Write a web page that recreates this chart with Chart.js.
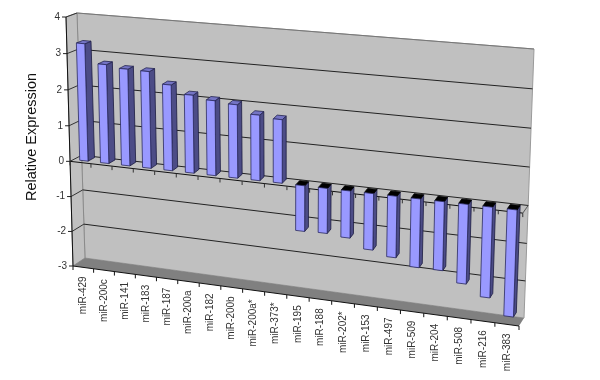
<!DOCTYPE html>
<html>
<head>
<meta charset="utf-8">
<script src="https://cdn.jsdelivr.net/npm/chart.js@4"></script>
<style>
body { margin: 0; background: #fff; }
canvas { display: block; }
</style>
</head>
<body>
<canvas id="myChart" width="600" height="380"></canvas>
<script>
var categories = ['miR-429', 'miR-200c', 'miR-141', 'miR-183', 'miR-187', 'miR-200a', 'miR-182', 'miR-200b', 'miR-200a*', 'miR-373*',
  'miR-195', 'miR-188', 'miR-202*', 'miR-153', 'miR-497', 'miR-509', 'miR-204', 'miR-508', 'miR-216', 'miR-383'];
var expression = [3.27, 2.75, 2.68, 2.67, 2.36, 2.14, 2.05, 2.0, 1.78, 1.72,
  -1.25, -1.23, -1.28, -1.53, -1.66, -1.85, -1.85, -2.13, -2.42, -2.85];
var yMin = -3;
var yMax = 4;

// corners of the tilted box: top-left, top-right, bottom-right, bottom-left
var backWall = [[77, 13], [534, 49], [524, 318], [85, 258]];
var frontPlane = [[66, 17], [528, 57], [519, 326], [73, 266]];

function homography(q) {
  var dx1 = q[1][0] - q[2][0], dx2 = q[3][0] - q[2][0], sx = q[0][0] - q[1][0] + q[2][0] - q[3][0];
  var dy1 = q[1][1] - q[2][1], dy2 = q[3][1] - q[2][1], sy = q[0][1] - q[1][1] + q[2][1] - q[3][1];
  var det = dx1 * dy2 - dx2 * dy1;
  var g = (sx * dy2 - dx2 * sy) / det;
  var h = (dx1 * sy - sx * dy1) / det;
  return {
    a: q[1][0] - q[0][0] + g * q[1][0], b: q[3][0] - q[0][0] + h * q[3][0], c: q[0][0],
    d: q[1][1] - q[0][1] + g * q[1][1], e: q[3][1] - q[0][1] + h * q[3][1], f: q[0][1],
    g: g, h: h
  };
}
var backH = homography(backWall);
var frontH = homography(frontPlane);

function onPlane(m, u, v) {
  var w = m.g * u + m.h * v + 1;
  return [(m.a * u + m.b * v + m.c) / w, (m.d * u + m.e * v + m.f) / w];
}

// u along the categories, v down the value axis, depth 0 = back wall, 1 = front
function project(u, v, depth) {
  var p = onPlane(backH, u, v);
  var q = onPlane(frontH, u, v);
  return [p[0] + (q[0] - p[0]) * depth, p[1] + (q[1] - p[1]) * depth];
}

function poly(ctx, pts, fill, stroke) {
  ctx.beginPath();
  ctx.moveTo(pts[0][0], pts[0][1]);
  for (var i = 1; i < pts.length; i++) ctx.lineTo(pts[i][0], pts[i][1]);
  ctx.closePath();
  if (fill) { ctx.fillStyle = fill; ctx.fill(); }
  if (stroke) { ctx.strokeStyle = stroke; ctx.stroke(); }
}

function line(ctx, a, b, color) {
  ctx.beginPath();
  ctx.moveTo(a[0], a[1]);
  ctx.lineTo(b[0], b[1]);
  ctx.strokeStyle = color;
  ctx.stroke();
}

var box3d = {
  id: 'box3d',
  // the box goes under the bars, the library's flat bars are swapped for 3D ones
  beforeDatasetsDraw: function(chart) {
    var ctx = chart.ctx;
    var area = chart.chartArea;
    var yScale = chart.scales.y;
    var xScale = chart.scales.x;
    var vOf = function(pixel) { return (pixel - area.top) / (area.bottom - area.top); };
    var uOf = function(pixel) { return (pixel - area.left) / (area.right - area.left); };
    var v0 = vOf(yScale.getPixelForValue(0));
    var n = categories.length;
    var i;

    ctx.save();
    ctx.lineWidth = 1;

    poly(ctx, [project(0, 0, 0), project(1, 0, 0), project(1, 1, 0), project(0, 1, 0)], '#c0c0c0', '#9a9a9a');
    poly(ctx, [project(0, 0, 1), project(0, 0, 0), project(0, 1, 0), project(0, 1, 1)], '#c0c0c0', '#8a8a8a');
    poly(ctx, [project(0, 1, 0), project(1, 1, 0), project(1, 1, 1), project(0, 1, 1)], '#808080');

    // gridlines and value axis
    yScale.ticks.forEach(function(tick) {
      var v = vOf(yScale.getPixelForValue(tick.value));
      if (tick.value !== yMin) {
        line(ctx, project(0, v, 1), project(0, v, 0), '#333');
        line(ctx, project(0, v, 0), project(1, v, 0), tick.value === yMax ? '#777' : '#222');
      }
      var p = project(0, v, 1);
      line(ctx, [p[0] - 4, p[1]], p, '#222');
      ctx.fillStyle = '#333';
      ctx.font = '10px "Liberation Sans"';
      ctx.textAlign = 'right';
      ctx.textBaseline = 'middle';
      ctx.fillText(tick.label, p[0] - 6, p[1]);
    });
    line(ctx, project(0, 0, 1), project(0, 1, 1), '#111');

    // zero line with its ticks, floor edge with its ticks
    line(ctx, project(0, v0, 1), project(1, v0, 1), '#111');
    line(ctx, project(1, v0, 1), project(1, v0, 0), '#555');
    line(ctx, project(0, 1, 1), project(1, 1, 1), '#111');
    for (i = 0; i <= n; i++) {
      var a = project(i / n, v0, 1);
      line(ctx, a, [a[0], a[1] + 4], '#333');
      var b = project(i / n, 1, 1);
      line(ctx, b, [b[0], b[1] + 4], '#111');
    }

    // category labels hang below the floor edge
    ctx.fillStyle = '#333';
    ctx.font = '10px "Liberation Sans"';
    categories.forEach(function(label, index) {
      var p = project(uOf(xScale.getPixelForValue(index)), 1, 1);
      ctx.save();
      ctx.translate(p[0], p[1] + 9);
      ctx.rotate(-Math.PI / 2);
      ctx.textAlign = 'right';
      ctx.textBaseline = 'middle';
      ctx.fillText(label, 0, 0);
      ctx.restore();
    });

    // bars
    var front = 0.7;
    var back = 0.12;
    chart.getDatasetMeta(0).data.forEach(function(bar) {
      var u0 = uOf(bar.x - bar.width / 2);
      var u1 = uOf(bar.x + bar.width / 2);
      var vTop = vOf(Math.min(bar.y, bar.base));
      var vBot = vOf(Math.max(bar.y, bar.base));
      var negative = bar.y > bar.base;
      ctx.lineWidth = 0.8;
      poly(ctx, [project(u1, vTop, front), project(u1, vTop, back), project(u1, vBot, back), project(u1, vBot, front)], '#4c4c86', '#1a1a40');
      poly(ctx, [project(u0, vTop, back), project(u1, vTop, back), project(u1, vTop, front), project(u0, vTop, front)], negative ? '#000' : '#7474c4', negative ? '#000' : '#24244f');
      poly(ctx, [project(u0, vTop, front), project(u1, vTop, front), project(u1, vBot, front), project(u0, vBot, front)], '#9999ff', '#2a2a60');
    });

    ctx.restore();
    return false;
  }
};

new Chart(document.getElementById('myChart').getContext('2d'), {
  type: 'bar',
  data: {
    labels: categories,
    datasets: [{
      label: 'Relative Expression',
      data: expression,
      backgroundColor: '#9999ff',
      categoryPercentage: 1,
      barPercentage: 0.4
    }]
  },
  options: {
    responsive: false,
    animation: false,
    layout: { padding: { left: 19, right: 60, top: 17, bottom: 123 } },
    plugins: { legend: { display: false }, tooltip: { enabled: false } },
    scales: {
      x: { display: false },
      y: {
        min: yMin,
        max: yMax,
        ticks: { stepSize: 1, display: false },
        grid: { display: false },
        border: { display: false },
        title: {
          display: true,
          text: 'Relative Expression',
          color: '#111',
          font: { family: '"Liberation Sans"', size: 14.5 }
        }
      }
    }
  },
  plugins: [box3d]
});
</script>
</body>
</html>
